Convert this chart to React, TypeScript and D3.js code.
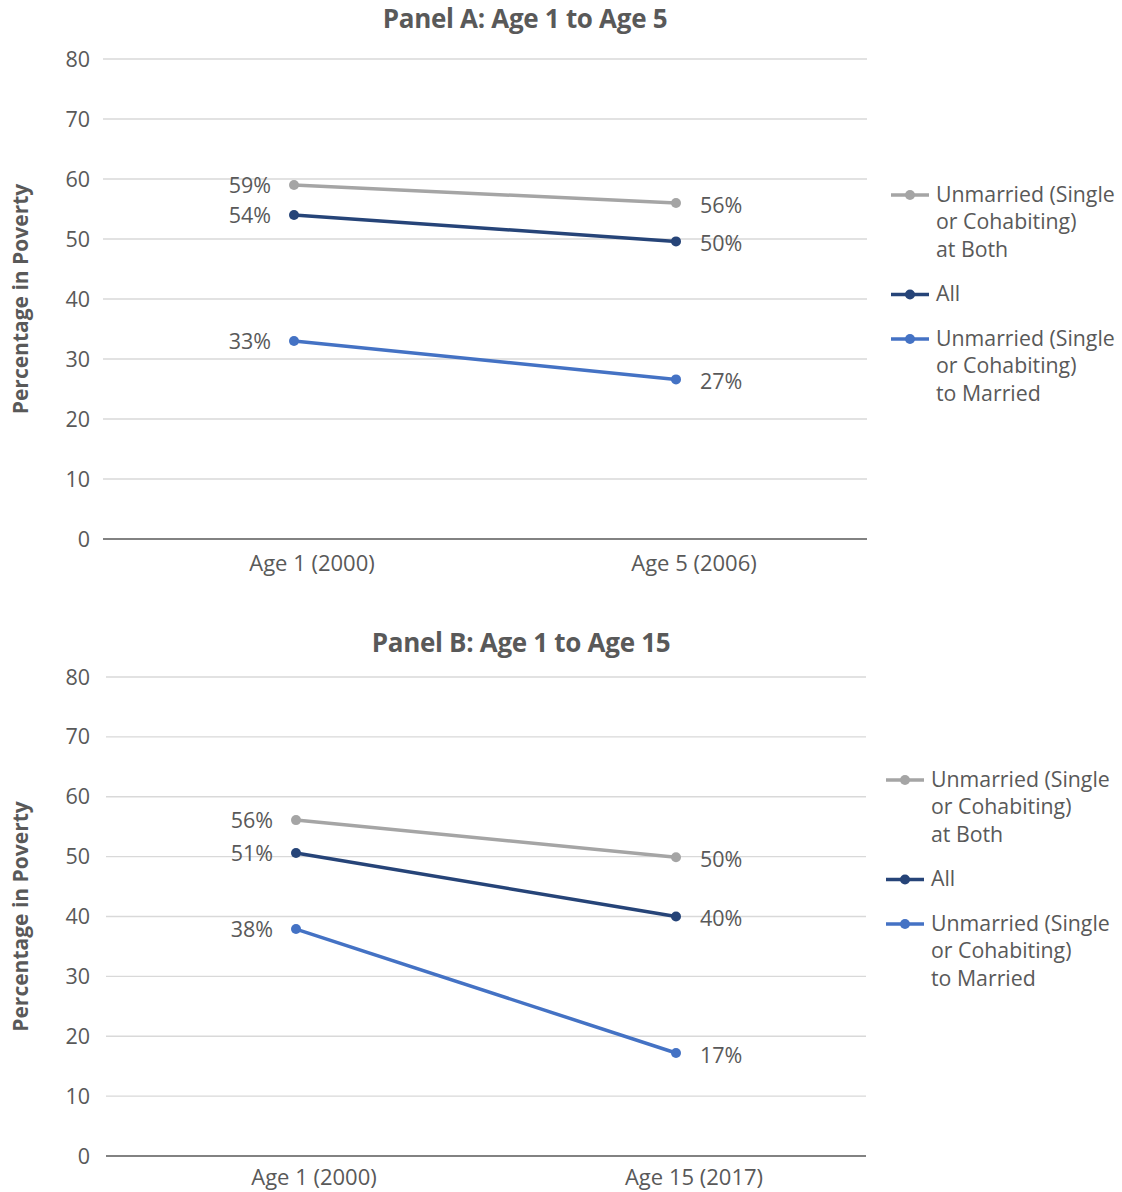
import React from "react";
import * as d3 from "d3";

// Survey waves shown on each panel's x axis
const panelATitle = "Panel A: Age 1 to Age 5";
const panelBTitle = "Panel B: Age 1 to Age 15";
const panelACategories = ["Age 1 (2000)", "Age 5 (2006)"];
const panelBCategories = ["Age 1 (2000)", "Age 15 (2017)"];

// Percentage of children in poverty, by parents' marital path
const seriesNames = ["Unmarried (Single or Cohabiting) at Both", "All", "Unmarried (Single or Cohabiting) to Married"];
const panelAUnmarriedBoth = [59, 56];
const panelAAll = [54, 49.6];
const panelAToMarried = [33, 26.6];
const panelBUnmarriedBoth = [56.1, 49.9];
const panelBAll = [50.6, 40];
const panelBToMarried = [37.9, 17.2];

const yTicks = [0, 10, 20, 30, 40, 50, 60, 70, 80];

const legendLines = [
  ["Unmarried (Single", "or Cohabiting)", "at Both"],
  ["All"],
  ["Unmarried (Single", "or Cohabiting)", "to Married"],
];

const seriesColors = ["#a5a5a5", "#264478", "#4472c4"];
const textColor = "#595959";
const font = "'Open Sans', Lato, sans-serif";
const fmt = (v: number) => `${d3.format(".0f")(v)}%`;

type PanelProps = {
  title: string;
  categories: string[];
  series: number[][];
  left: number;
  right: number;
  top: number;
  bottom: number;
  xLabelGap: number;
  titleX: number;
  titleY: number;
  legendX: number;
  legendY: number;
};

function Panel({ title, categories, series, left, right, top, bottom, xLabelGap, titleX, titleY, legendX, legendY }: PanelProps) {
  const x = d3.scalePoint<string>().domain(categories).range([left, right]).padding(0.5);
  const y = d3.scaleLinear().domain([0, 80]).range([bottom, top]);
  const line = d3
    .line<number>()
    .x((_, i) => x(categories[i]) as number)
    .y((d) => y(d));

  let ly = legendY;
  const legendItems = legendLines.map((lines, i) => {
    const itemY = ly;
    ly += lines.length * 27.5 + 17;
    return { lines, y: itemY, color: seriesColors[i], name: seriesNames[i] };
  });

  return (
    <g fontFamily={font}>
      <text x={titleX} y={titleY} textAnchor="middle" dominantBaseline="central" fontSize={26} fontWeight={700} fill={textColor} letterSpacing={-0.3}>
        {title}
      </text>
      <text
        transform={`translate(20,${(top + bottom) / 2}) rotate(-90)`}
        textAnchor="middle"
        dominantBaseline="central"
        fontSize={21}
        fontWeight={700}
        fill={textColor}
      >
        Percentage in Poverty
      </text>
      {yTicks.map((t) => (
        <g key={t}>
          {t > 0 && <line x1={left} x2={right} y1={y(t)} y2={y(t)} stroke="#d9d9d9" strokeWidth={1.3} />}
          <text x={90} y={y(t) - 1} textAnchor="end" dominantBaseline="central" fontSize={21.5} fill={textColor}>
            {t}
          </text>
        </g>
      ))}
      <line x1={left} x2={right} y1={y(0)} y2={y(0)} stroke="#595959" strokeWidth={1.5} />
      {categories.map((c) => (
        <text key={c} x={(x(c) as number) + 18} y={bottom + xLabelGap} textAnchor="middle" fontSize={22} fill={textColor}>
          {c}
        </text>
      ))}
      {series.map((vals, si) => (
        <g key={si}>
          <path d={line(vals) as string} fill="none" stroke={seriesColors[si]} strokeWidth={3.5} />
          {vals.map((v, i) => (
            <circle key={i} cx={x(categories[i]) as number} cy={y(v)} r={5} fill={seriesColors[si]} />
          ))}
          <text x={(x(categories[0]) as number) - 23} y={y(vals[0]) - 1} textAnchor="end" dominantBaseline="central" fontSize={21.5} fill={textColor}>
            {fmt(vals[0])}
          </text>
          <text x={(x(categories[1]) as number) + 24} y={y(vals[1]) + 1} textAnchor="start" dominantBaseline="central" fontSize={21.5} fill={textColor}>
            {fmt(vals[1])}
          </text>
        </g>
      ))}
      {legendItems.map((item) => (
        <g key={item.name}>
          <line x1={legendX} x2={legendX + 38} y1={item.y + 2} y2={item.y + 2} stroke={item.color} strokeWidth={3.5} />
          <circle cx={legendX + 19} cy={item.y + 2} r={5} fill={item.color} />
          {item.lines.map((l, j) => (
            <text key={j} x={legendX + 45} y={item.y + j * 27.5} dominantBaseline="central" fontSize={21.3} fill={textColor}>
              {l}
            </text>
          ))}
        </g>
      ))}
    </g>
  );
}

export default function App() {
  return (
    <svg width={1122} height={1192} style={{ position: "absolute", left: 0, top: 0, background: "#fff" }}>
      <Panel
        title={panelATitle}
        categories={panelACategories}
        series={[panelAUnmarriedBoth, panelAAll, panelAToMarried]}
        left={103}
        right={867}
        top={59}
        bottom={539}
        xLabelGap={32}
        titleX={525}
        titleY={18}
        legendX={891}
        legendY={193}
      />
      <Panel
        title={panelBTitle}
        categories={panelBCategories}
        series={[panelBUnmarriedBoth, panelBAll, panelBToMarried]}
        left={106}
        right={866}
        top={677}
        bottom={1156}
        xLabelGap={28.5}
        titleX={521}
        titleY={642}
        legendX={886}
        legendY={778}
      />
    </svg>
  );
}
